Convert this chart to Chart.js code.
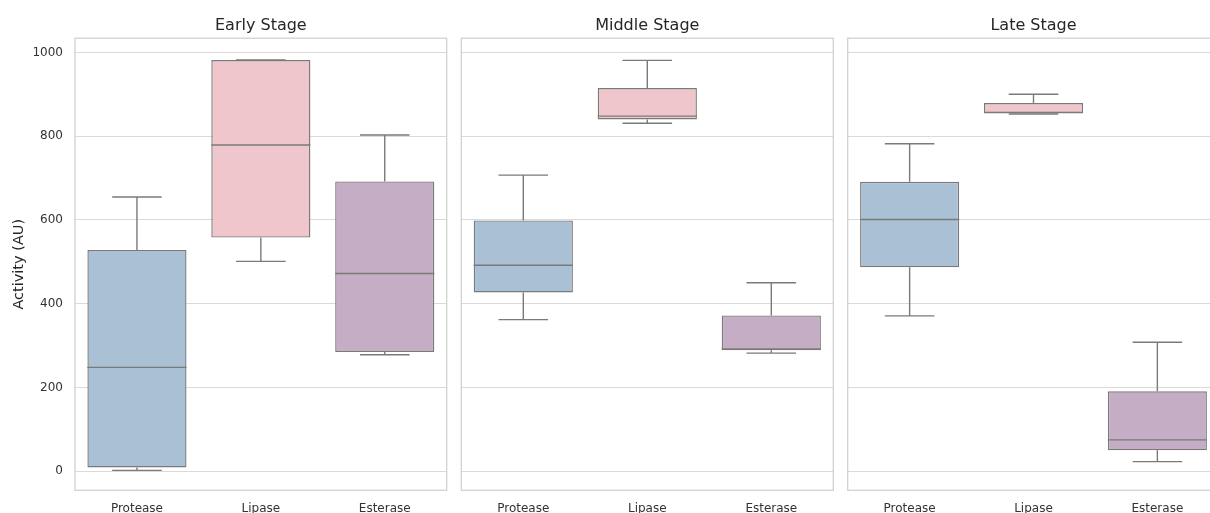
<!DOCTYPE html>
<html>
<head>
<meta charset="utf-8">
<script src="https://cdn.jsdelivr.net/npm/chart.js@4.4.1/dist/chart.umd.min.js"></script>
<style>
  html, body { margin: 0; padding: 0; background: #ffffff; }
  body { width: 1210px; height: 513px; overflow: hidden; position: relative; }
  canvas { position: absolute; top: 0; display: block; }
</style>
</head>
<body>
<canvas id="c0" width="452" height="540" style="left:0px"></canvas>
<canvas id="c1" width="384" height="540" style="left:455px"></canvas>
<canvas id="c2" width="384" height="540" style="left:841px"></canvas>
<script>
// Enzymes on the x axis of every panel
const enzymes = ['Protease', 'Lipase', 'Esterase'];
const stages = ['Early Stage', 'Middle Stage', 'Late Stage'];
const yTicks = [0, 200, 400, 600, 800, 1000];

// Box statistics per stage (index follows enzymes): whisker low, Q1, median, Q3, whisker high
const earlyLow    = [2, 501, 278];
const earlyQ1     = [9, 558, 285];
const earlyMedian = [248, 779, 472];
const earlyQ3     = [528, 982, 692];
const earlyHigh   = [655, 982, 803];

const middleLow    = [362, 831, 282];
const middleQ1     = [427, 840, 289];
const middleMedian = [492, 848, 292];
const middleQ3     = [599, 915, 372];
const middleHigh   = [707, 981, 450];

const lateLow    = [371, 853, 23];
const lateQ1     = [487, 854, 50];
const lateMedian = [601, 857, 75];
const lateQ3     = [691, 879, 191];
const lateHigh   = [782, 900, 308];

const boxFills = ['#aac1d5', '#eec6cb', '#c5adc6'];
const edgeColor = '#7a7a7a';
const gridColor = '#dadada';
const frameColor = '#d0d0d0';
const fontFamily = "'DejaVu Sans', sans-serif";

Chart.defaults.font.family = fontFamily;
Chart.defaults.color = '#333333';

const panelStats = [
  { low: earlyLow,  q1: earlyQ1,  med: earlyMedian,  q3: earlyQ3,  high: earlyHigh },
  { low: middleLow, q1: middleQ1, med: middleMedian, q3: middleQ3, high: middleHigh },
  { low: lateLow,   q1: lateQ1,   med: lateMedian,   q3: lateQ3,   high: lateHigh }
];

// Whiskers, caps, medians, the axes frame and the panel title, drawn from the chart's own scales
function boxPlugin(st, title) {
  return {
    id: 'boxWhiskers',
    beforeDatasetsDraw(chart) {
      const { ctx, scales: { x, y } } = chart;
      const catW = x.getPixelForValue(1) - x.getPixelForValue(0);
      const capHalf = catW * 0.2;
      ctx.save();
      ctx.strokeStyle = edgeColor;
      ctx.lineWidth = 1.4;
      st.low.forEach((lo, i) => {
        const cx = x.getPixelForValue(i);
        const yl = y.getPixelForValue(lo), y1 = y.getPixelForValue(st.q1[i]);
        const y3 = y.getPixelForValue(st.q3[i]), yh = y.getPixelForValue(st.high[i]);
        ctx.beginPath();
        ctx.moveTo(cx, y1); ctx.lineTo(cx, yl);
        ctx.moveTo(cx - capHalf, yl); ctx.lineTo(cx + capHalf, yl);
        ctx.moveTo(cx, y3); ctx.lineTo(cx, yh);
        ctx.moveTo(cx - capHalf, yh); ctx.lineTo(cx + capHalf, yh);
        ctx.stroke();
      });
      ctx.restore();
    },
    afterDatasetsDraw(chart) {
      const { ctx, chartArea: a, scales: { x, y } } = chart;
      const catW = x.getPixelForValue(1) - x.getPixelForValue(0);
      const boxHalf = catW * 0.4;
      ctx.save();
      ctx.strokeStyle = edgeColor;
      ctx.lineWidth = 1.4;
      st.med.forEach((m, i) => {
        const cx = x.getPixelForValue(i);
        const ym = y.getPixelForValue(m);
        ctx.beginPath();
        ctx.moveTo(cx - boxHalf, ym); ctx.lineTo(cx + boxHalf, ym);
        ctx.stroke();
      });
      ctx.strokeStyle = frameColor;
      ctx.lineWidth = 1.25;
      ctx.strokeRect(a.left, a.top, a.right - a.left, a.bottom - a.top);
      // panel title centred over the plotting area
      ctx.fillStyle = '#262626';
      ctx.font = '16px ' + fontFamily;
      ctx.textAlign = 'center';
      ctx.textBaseline = 'middle';
      ctx.fillText(title, (a.left + a.right) / 2, 25.6);
      ctx.restore();
    }
  };
}

function makePanel(idx, padLeft, padRight, yAxisWidth) {
  const st = panelStats[idx];
  const first = idx === 0;
  return new Chart(document.getElementById('c' + idx), {
    type: 'bar',
    data: {
      labels: enzymes,
      datasets: [{
        data: enzymes.map((_, i) => [st.q1[i], st.q3[i]]),
        backgroundColor: boxFills,
        borderColor: edgeColor,
        borderWidth: 1.4,
        borderSkipped: false,
        barPercentage: 0.8,
        categoryPercentage: 1.0
      }]
    },
    plugins: [boxPlugin(st, stages[idx])],
    options: {
      responsive: false,
      animation: false,
      layout: { padding: { left: padLeft, right: padRight, top: 38.2, bottom: 0 } },
      plugins: {
        legend: { display: false },
        tooltip: { enabled: false },
        title: { display: false }
      },
      scales: {
        x: {
          offset: true,
          grid: { display: false, drawTicks: false },
          border: { display: false },
          ticks: { color: '#333333', font: { size: 12 }, padding: 11, maxRotation: 0 },
          afterFit: s => { s.height = 49.7; }
        },
        y: {
          min: -45.5,
          max: 1034,
          afterBuildTicks: s => { s.ticks = yTicks.map(v => ({ value: v })); },
          grid: { color: gridColor, lineWidth: 1, drawTicks: false },
          border: { display: false },
          ticks: {
            display: first,
            color: '#333333',
            font: { size: 12 },
            padding: 12,
            callback: v => String(v)
          },
          title: {
            display: first,
            text: 'Activity (AU)',
            color: '#262626',
            font: { size: 14.5 },
            padding: { top: 11, bottom: 0 }
          },
          afterFit: s => { s.width = yAxisWidth; }
        }
      }
    }
  });
}

makePanel(0, 0, 5.3, 75);
makePanel(1, 6.3, 5.7, 0);
makePanel(2, 6.7, 5.7, 0);
</script>
</body>
</html>
